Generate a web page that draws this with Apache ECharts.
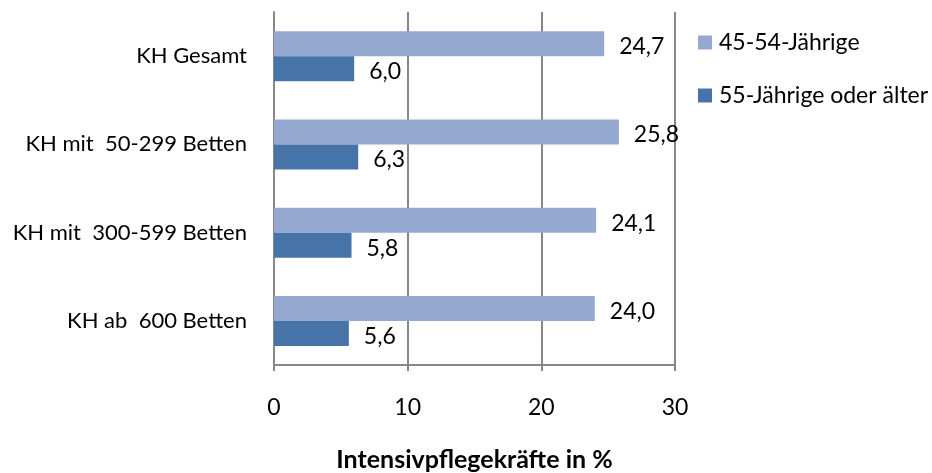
<!DOCTYPE html>
<html>
<head>
<meta charset="utf-8">
<script src="https://cdn.jsdelivr.net/npm/echarts@6/dist/echarts.min.js"></script>
<style>html,body{margin:0;padding:0;background:#fff}#c{width:932px;height:473px}</style>
</head>
<body>
<div id="c"></div>
<script>
const categories = ['KH Gesamt', 'KH mit  50-299 Betten', 'KH mit  300-599 Betten', 'KH ab  600 Betten'];
const seriesNames = ['45-54-Jährige', '55-Jährige oder älter'];
const values4554 = [24.7, 25.8, 24.1, 24.0];
const values55plus = [6.0, 6.3, 5.8, 5.6];
const xTicks = [0, 10, 20, 30];
const xTitle = 'Intensivpflegekräfte in %';

const FONT = 'Lato';
const chart = echarts.init(document.getElementById('c'));
const lbl = {
  show: true, position: 'right', distance: 15, offset: [0, 3],
  color: '#000', fontFamily: FONT, fontSize: 23,
  formatter: p => p.value.toFixed(1).replace('.', ',')
};
chart.setOption({
  animation: false,
  grid: { left: 274, right: 257, top: 12, height: 353, containLabel: false, outerBoundsMode: 'none' },
  legend: {
    orient: 'vertical', left: 693, top: 26,
    itemWidth: 14, itemHeight: 14, itemGap: 30,
    icon: 'rect',
    data: seriesNames,
    textStyle: { fontFamily: FONT, fontSize: 23, color: '#000', padding: [0, 0, 0, 2] }
  },
  xAxis: {
    type: 'value', min: xTicks[0], max: xTicks[xTicks.length - 1], interval: 10,
    name: xTitle, nameLocation: 'middle', nameGap: 82,
    nameTextStyle: { fontFamily: FONT, fontSize: 25, fontWeight: 'bold', color: '#000' },
    axisLine: { show: true, lineStyle: { color: '#878787', width: 2 } },
    axisTick: { show: true, length: 6, lineStyle: { color: '#878787', width: 2 } },
    splitLine: { show: true, lineStyle: { color: '#878787', width: 2 } },
    axisLabel: { margin: 31, fontFamily: FONT, fontSize: 23, color: '#000' }
  },
  yAxis: {
    type: 'category', data: categories, inverse: true,
    axisLine: { show: true, lineStyle: { color: '#878787', width: 2 } },
    axisTick: { show: false },
    axisLabel: { margin: 27, fontFamily: FONT, fontSize: 22, color: '#000' }
  },
  series: [
    { name: seriesNames[0], type: 'bar', data: values4554, barWidth: 25, barGap: '0%',
      itemStyle: { color: '#95A8D0' }, label: lbl },
    { name: seriesNames[1], type: 'bar', data: values55plus, barWidth: 25, barGap: '0%',
      itemStyle: { color: '#4673A8' }, label: lbl }
  ]
});
</script>
</body>
</html>
